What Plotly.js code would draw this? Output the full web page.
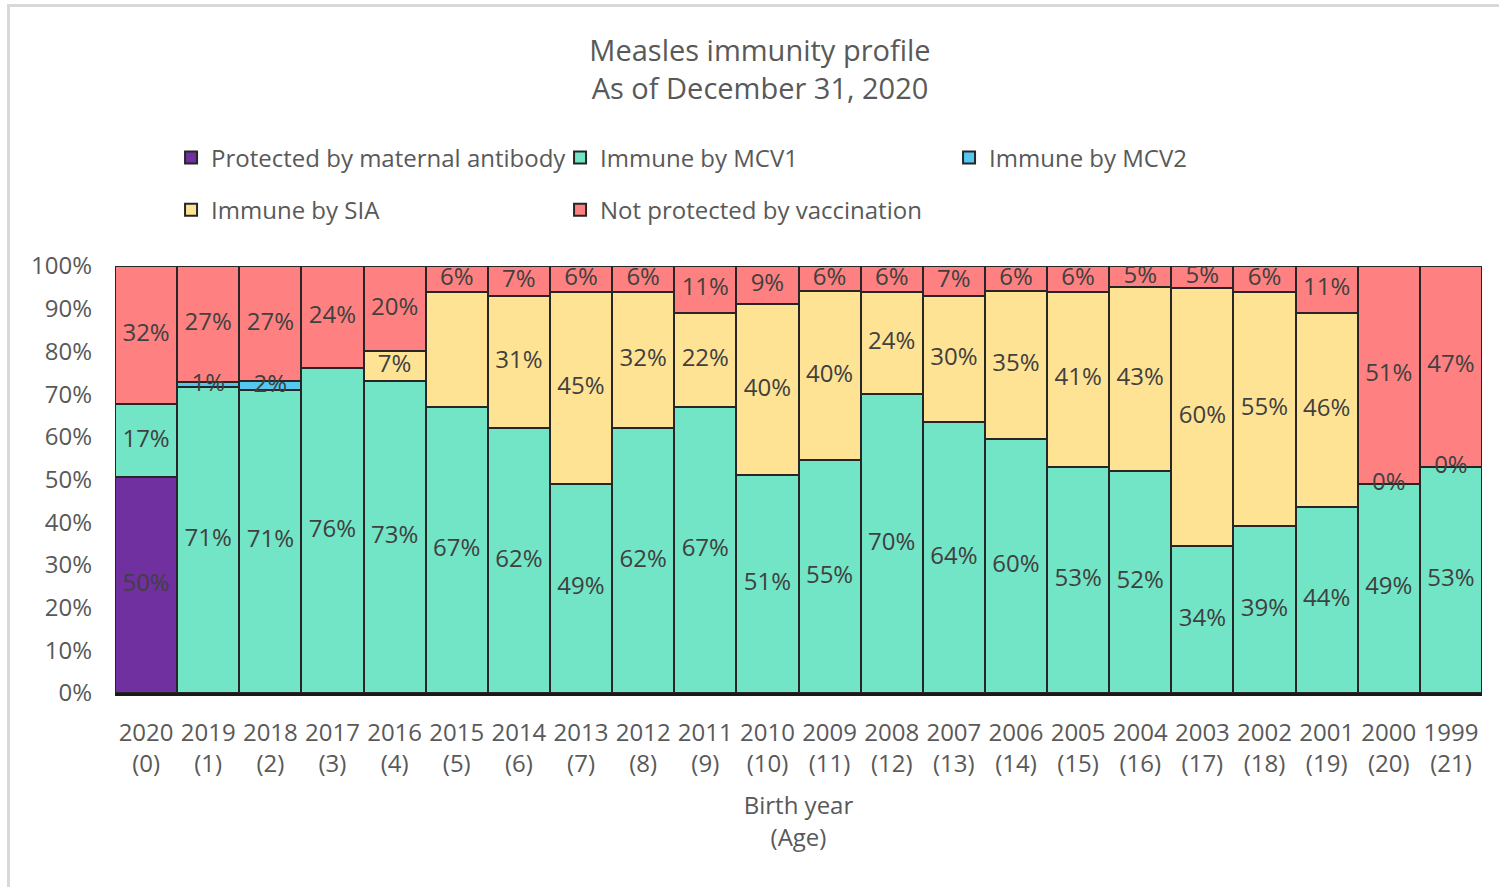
<!DOCTYPE html>
<html>
<head>
<meta charset="utf-8">
<script src="https://cdn.plot.ly/plotly-3.0.1.min.js"></script>
<style>
  html, body { margin: 0; padding: 0; background: #fff; overflow: hidden; }
  #chart { width: 1499px; height: 887px; }
  #frame { position: absolute; left: 7px; top: 4px; width: 1700px; height: 1100px;
           border-top: 3px solid #d9d9d9; border-left: 3px solid #d9d9d9; pointer-events: none; }
</style>
</head>
<body>
<div id="chart"></div>
<div id="frame"></div>
<script>
// ---- data ----
const birthYears = ['2020','2019','2018','2017','2016','2015','2014','2013','2012','2011','2010',
                    '2009','2008','2007','2006','2005','2004','2003','2002','2001','2000','1999'];
const ages = [0,1,2,3,4,5,6,7,8,9,10,11,12,13,14,15,16,17,18,19,20,21];

// null = segment absent and not labelled
const maternal = [50,null,null,null,null,null,null,null,null,null,null,null,null,null,null,null,null,null,null,null,null,null];
const mcv1     = [17,71,71,76,73,67,62,49,62,67,51,55,70,64,60,53,52,34,39,44,49,53];
const mcv2     = [null,1,2,null,null,null,null,null,null,null,null,null,null,null,null,null,null,null,null,null,null,null];
const sia      = [null,null,null,null,7,27,31,45,32,22,40,40,24,30,35,41,43,60,55,46,0,0];
const notProt  = [32,27,27,24,20,6,7,6,6,11,9,6,6,7,6,6,5,5,6,11,51,47];
// SIA label not shown in the original for birth year 2015
const siaHiddenLabels = ['2015'];

const seriesNames = ['Protected by maternal antibody','Immune by MCV1','Immune by MCV2','Immune by SIA','Not protected by vaccination'];
const seriesColors = ['#7030A0','#71E5C6','#55C8F0','#FFE394','#FF8080'];

// ---- build ----
const cats = birthYears.map((y,i) => y + '<br>(' + ages[i] + ')');
const seriesVals = [maternal, mcv1, mcv2, sia, notProt];
const FONT = 'Open Sans, Noto Sans, sans-serif';

const traces = [];
seriesVals.forEach((vals, s) => {
  traces.push({
    type: 'bar', x: cats, y: vals.map(v => v === null ? 0 : v),
    name: seriesNames[s],
    marker: { color: seriesColors[s], line: { color: '#262626', width: 2 } },
    legend: s < 3 ? 'legend' : 'legend2',
    hoverinfo: 'skip'
  });
});

// totals per column (chart is a 100% stacked bar)
const totals = cats.map((c, i) => seriesVals.reduce((a, vals) => a + (vals[i] || 0), 0));

// labels at segment centres (normalised like the bars)
const lx = [], ly = [], lt = [];
const cum = new Array(cats.length).fill(0);
seriesVals.forEach((vals, s) => {
  vals.forEach((v, i) => {
    const val = v === null ? 0 : v;
    const hidden = (s === 3 && siaHiddenLabels.includes(birthYears[i]));
    if (v !== null && !hidden) {
      lx.push(cats[i]); ly.push((cum[i] + val / 2) / totals[i] * 100); lt.push(val + '%');
    }
    cum[i] += val;
  });
});
traces.push({
  type: 'scatter', mode: 'text', x: lx, y: ly, text: lt,
  textposition: 'middle center',
  textfont: { family: FONT, size: 24, color: '#404040' },
  showlegend: false, hoverinfo: 'skip', cliponaxis: false
});

const layout = {
  width: 1499, height: 887,
  margin: { l: 115, r: 17, t: 266, b: 194 },
  paper_bgcolor: '#ffffff', plot_bgcolor: '#ffffff',
  barmode: 'stack', barnorm: 'percent', bargap: 0,
  font: { family: FONT, color: '#595959' },
  title: {
    text: 'Measles immunity profile<br>As of December 31, 2020',
    font: { family: FONT, size: 29, color: '#595959' },
    x: 0.507, xanchor: 'center', y: 0.931, yanchor: 'middle'
  },
  xaxis: {
    type: 'category', range: [-0.5, cats.length - 0.5], autorange: false,
    showgrid: false, zeroline: false,
    showline: true, linecolor: '#1a1a1a', linewidth: 3,
    tickfont: { family: FONT, size: 24, color: '#595959' },
    ticks: '', ticklabelstandoff: 16,
    title: { text: 'Birth year<br>(Age)', font: { family: FONT, size: 24, color: '#595959' }, standoff: 20 }
  },
  yaxis: {
    range: [0, 100], autorange: false, dtick: 10, ticksuffix: '%',
    showgrid: false, zeroline: false, showline: false,
    tickfont: { family: FONT, size: 24, color: '#595959' },
    ticks: '', ticklabelstandoff: 22
  },
  legend: {
    orientation: 'h', x: 0.041, xanchor: 'left', y: 1.253, yanchor: 'middle',
    entrywidth: 344, entrywidthmode: 'pixels',
    font: { family: FONT, size: 24, color: '#595959' }, traceorder: 'normal'
  },
  legend2: {
    orientation: 'h', x: 0.041, xanchor: 'left', y: 1.131, yanchor: 'middle',
    entrywidth: 344, entrywidthmode: 'pixels',
    font: { family: FONT, size: 24, color: '#595959' }, traceorder: 'normal'
  },
  showlegend: true
};

Plotly.newPlot('chart', traces, layout, { displayModeBar: false, staticPlot: true });
</script>
</body>
</html>
